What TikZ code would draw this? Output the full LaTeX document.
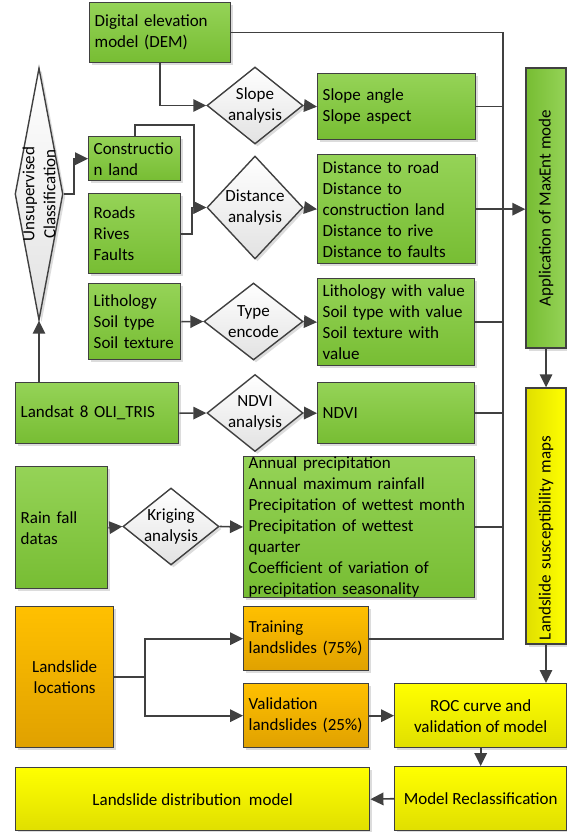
\documentclass[tikz,border=0pt]{standalone}
\usepackage{fontspec}
\setmainfont{Carlito}
\usetikzlibrary{shapes.geometric,arrows.meta,shadows}
\definecolor{linec}{HTML}{404040}
\definecolor{gtop}{HTML}{95D357}
\definecolor{gbot}{HTML}{77BD33}
\definecolor{otop}{HTML}{FFC000}
\definecolor{obot}{HTML}{E0A100}
\definecolor{ytop}{HTML}{FFFF00}
\definecolor{ybot}{HTML}{E0DF00}
\definecolor{dgray}{HTML}{E2E2E2}
\begin{document}
\begin{tikzpicture}[x=1pt,y=-1pt,
  base/.style={draw=linec, line width=1.4pt, inner sep=0pt,
    font=\fontsize{17pt}{21pt}\selectfont,
    drop shadow={shadow xshift=2.5pt,shadow yshift=-2.5pt,fill=black!15,opacity=0.9}},
  gbox/.style={base, top color=gtop, bottom color=gbot},
  obox/.style={base, top color=otop, bottom color=obot},
  ybox/.style={base, top color=ytop, bottom color=ybot},
  lb/.style={anchor=north west, align=left},
  cb/.style={anchor=north west, align=center},
  dia/.style={base, shape=diamond, top color=white, bottom color=dgray},
  lbl/.style={inner sep=0pt, align=center, font=\fontsize{17pt}{21pt}\selectfont},
  line/.style={draw=linec, line width=1.6pt},
  arr/.style={line, -{Triangle[length=13pt,width=12.5pt]}}]
\path[use as bounding box, fill=white] (0,0) rectangle (567,832);

% green input boxes
\node[gbox, lb, minimum width=141pt, minimum height=60pt, text width=131pt] (dem) at (89,2) {Digital elevation\\model (DEM)};
\node[gbox, lb, minimum width=92pt, minimum height=44pt, text width=82pt] (constr) at (88,136) {Constructio\\n land};
\node[gbox, lb, minimum width=92pt, minimum height=80pt, text width=82pt] (roads) at (88,193) {Roads\\Rives\\Faults};
\node[gbox, lb, minimum width=92pt, minimum height=76pt, text width=82pt] (lith) at (88,283) {Lithology\\Soil type\\Soil texture};
\node[gbox, lb, minimum width=163pt, minimum height=61pt, text width=153pt] (landsat) at (15,382) {Landsat 8 OLI\_TRIS};
\node[gbox, lb, minimum width=92pt, minimum height=122pt, text width=82pt] (rain) at (15,466) {Rain fall\\datas};

% green output boxes
\node[gbox, lb, minimum width=158pt, minimum height=66pt, text width=148pt] (slopeout) at (317,73) {Slope angle\\Slope aspect};
\node[gbox, lb, minimum width=158pt, minimum height=109pt, text width=148pt] (distout) at (317,154) {Distance to road\\Distance to\\construction land\\Distance to rive\\Distance to faults};
\node[gbox, lb, minimum width=157pt, minimum height=87pt, text width=147pt] (lithout) at (317,278) {Lithology with value\\Soil type with value\\Soil texture with\\value};
\node[gbox, lb, minimum width=157pt, minimum height=61pt, text width=147pt] (ndviout) at (317,382) {NDVI};
\node[gbox, lb, minimum width=231pt, minimum height=140pt, text width=221pt] (precip) at (243,456) {Annual precipitation\\Annual maximum rainfall\\Precipitation of wettest month\\Precipitation of wettest\\quarter\\Coefficient of variation of\\precipitation seasonality};

% landslide boxes
\node[obox, cb, minimum width=98pt, minimum height=141pt] (loc) at (15,606) {Landslide\\locations};
\node[obox, lb, minimum width=125pt, minimum height=64pt, text width=115pt] (train) at (243,606) {Training\\landslides (75\%)};
\node[obox, lb, minimum width=125pt, minimum height=64pt, text width=115pt] (valid) at (243,683) {Validation\\landslides (25\%)};
\node[ybox, cb, minimum width=172pt, minimum height=64pt] (roc) at (394,683) {ROC curve and\\validation of model};
\node[ybox, cb, minimum width=172pt, minimum height=64pt] (reclass) at (394,766) {Model Reclassification};
\node[ybox, cb, minimum width=354pt, minimum height=63pt] (ldm) at (15,767) {Landslide distribution~~model};

% vertical boxes
\node[base, left color=gbot, right color=gtop, rotate=90, minimum width=280pt, minimum height=40pt] (app) at (546,208) {Application of MaxEnt mode};
\node[base, left color=ybot, right color=ytop, rotate=90, minimum width=256pt, minimum height=40pt, text width=248pt, align=left] (susc) at (546,516) {Landslide susceptibility maps};

% diamonds
\node[dia, minimum width=48pt, minimum height=252pt] (uc) at (39,194) {};
\node[lbl, rotate=90] (ucT) at (uc) {Unsupervised\\Classification};
\node[dia, minimum width=96pt, minimum height=77pt] (slope) at (255,105.5) {};
\node[lbl] (slopeT) at (slope) {Slope\\analysis};
\node[dia, minimum width=96pt, minimum height=103pt] (dist) at (255,207.5) {};
\node[lbl] (distT) at (dist) {Distance\\analysis};
\node[dia, minimum width=99pt, minimum height=77pt] (type) at (253.5,321.5) {};
\node[lbl] (typeT) at (type) {Type\\encode};
\node[dia, minimum width=96pt, minimum height=77pt] (ndvi) at (255,413) {};
\node[lbl] (ndviT) at (ndvi) {NDVI\\analysis};
\node[dia, minimum width=96pt, minimum height=77pt] (krig) at (171,526.5) {};
\node[lbl] (krigT) at (krig) {Kriging\\analysis};

% helper coordinates
\coordinate (busx) at (503,0);
\coordinate (cx) at (194,125);
\coordinate (rx) at (192,0);
\coordinate (brx) at (145,0);

% connectors
\draw[arr] (dem.south) |- (slope.west);
\draw[line] (dem.east) -| (busx |- train.east) -- (train.east);
\draw[arr] (uc.east) -- ++(10,0) |- (constr.west);
\draw[arr] (constr.north) |- (cx) |- (dist.west);
\draw[arr] (roads.east) -| (rx |- dist.west) -- (dist.west);
\draw[arr] (lith.east) -- (type.west);
\draw[arr] (uc.south |- landsat.north) -- (uc.south);
\draw[arr] (landsat.east) -- (ndvi.west);
\draw[arr] (rain.east) -- (krig.west);
\draw[arr] (slope.east) -- (slopeout.west);
\draw[arr] (dist.east) -- (distout.west);
\draw[arr] (type.east) -- (lithout.west);
\draw[arr] (ndvi.east) -- (ndviout.west);
\draw[arr] (krig.east) -- (precip.west);
\draw[line] (slopeout.east) -- (slopeout.east -| busx);
\draw[arr] (distout.east) -- (distout.east -| app.north);
\draw[line] (lithout.east) -- (lithout.east -| busx);
\draw[line] (ndviout.east) -- (ndviout.east -| busx);
\draw[line] (precip.east) -- (precip.east -| busx);
\draw[arr] (app.west) -- (susc.east);
\draw[arr] (susc.west) -- (susc.west |- roc.north);
\draw[arr] (loc.east) -- (loc.east -| brx) |- (train.west);
\draw[arr] (loc.east -| brx) |- (valid.west);
\draw[arr] (valid.east) -- (roc.west);
\draw[arr] (roc.south) -- (reclass.north);
\draw[arr] (reclass.west) -- (ldm.east);
\end{tikzpicture}
\end{document}
